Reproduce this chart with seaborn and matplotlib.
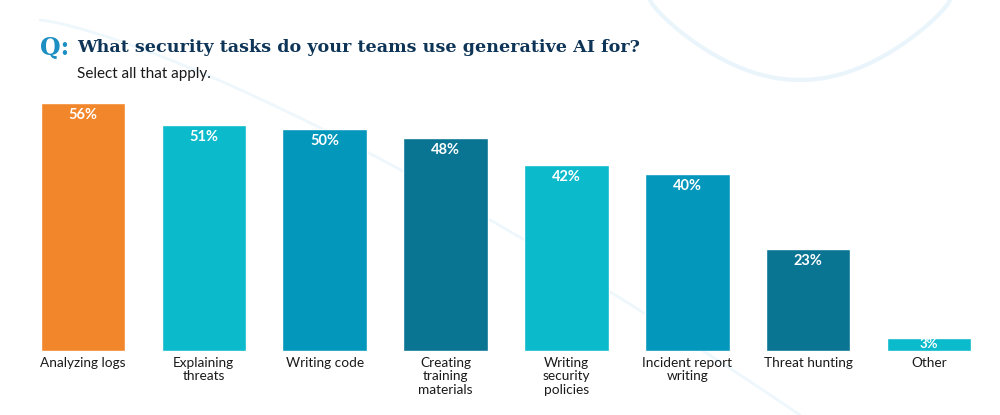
import numpy as np
import pandas as pd
import matplotlib.pyplot as plt
import seaborn as sns

categorias = ["Analyzing logs", "Explaining\nthreats", "Writing code",
              "Creating\ntraining\nmaterials", "Writing\nsecurity\npolicies",
              "Incident report\nwriting", "Threat hunting", "Other"]
percentuais = [56, 51, 50, 48, 42, 40, 23, 3]
cores = ["#F2862A", "#0BBACB", "#0497BC", "#0A7493",
         "#0BBACB", "#0497BC", "#0A7493", "#0BBACB"]

df = pd.DataFrame({"tarefa": categorias, "pct": percentuais})

sns.set_theme(style="white")
plt.rcParams["font.family"] = ["Lato", "DejaVu Sans"]

fig = plt.figure(figsize=(10, 4.15), dpi=100)
fig.patch.set_facecolor("white")

# curvas decorativas de fundo
bg = fig.add_axes([0, 0, 1, 1], zorder=0)
bg.set_xlim(0, 1000)
bg.set_ylim(415, 0)
bg.axis("off")
t = np.linspace(0, 1, 200)
bg.plot(650 + 300 * t, 80 * np.sin(np.pi * t) ** 0.8, color="#EAF5FB", lw=3)
bg.plot(40 + 760 * t, 20 + 395 * t ** 1.3, color="#EEF7FC", lw=2)

ax = fig.add_axes([0.0225, 1 - 351 / 415, 0.967, 265.8 / 415], zorder=1)
ax.patch.set_alpha(0)
sns.barplot(data=df, x="tarefa", y="pct", hue="tarefa", palette=cores,
            legend=False, width=0.7, saturation=1, ax=ax)
ax.set_xlim(-0.5, 7.5)
ax.set_ylim(0, 60)
ax.set_xlabel("")
ax.set_ylabel("")
ax.set_yticks([])
ax.tick_params(axis="x", length=0, pad=4, labelsize=9.8, labelcolor="#1A1A1A")
for lbl in ax.get_xticklabels():
    lbl.set_verticalalignment("top")
    lbl.set_linespacing(1.15)
sns.despine(ax=ax, left=True, bottom=True)

for i, v in enumerate(percentuais):
    if v < 8:
        ax.text(i, v / 2, f"{v}%", ha="center", va="center", color="white",
                fontsize=9.5, fontweight="bold")
    else:
        ax.text(i, v - 1.1, f"{v}%", ha="center", va="top", color="white",
                fontsize=10.5, fontweight="bold")

fig.text(0.04, 0.885, "Q:", color="#1C8EC2", fontsize=17, fontweight="bold",
         family=["DejaVu Serif"], va="center")
fig.text(0.077, 0.885, "What security tasks do your teams use generative AI for?",
         color="#0E3557", fontsize=12.6, fontweight="bold",
         family=["DejaVu Serif"], va="center")
fig.text(0.077, 0.822, "Select all that apply.", color="#1A1A1A", fontsize=11,
         va="center")

fig.savefig("out.png", dpi=100)
plt.close(fig)
